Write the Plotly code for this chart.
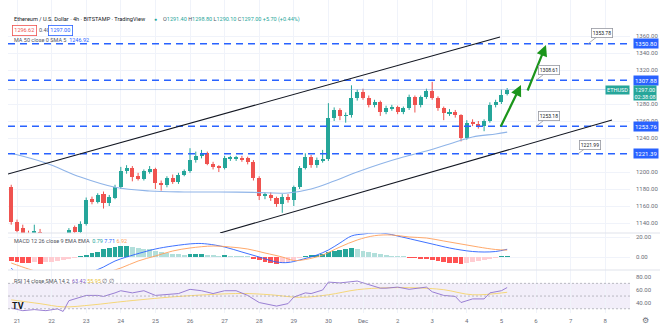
import pandas as pd
import plotly.graph_objects as go
from plotly.subplots import make_subplots

# ---------------- data ----------------
start_time = "2022-11-20 20:00"
n_candles = 87
opens = [1182, 1141, 1134, 1128, 1129, 1130, 1124, 1112, 1116, 1119,
         1125, 1135, 1129, 1139, 1168, 1165, 1174, 1163, 1170, 1182,
         1201, 1205, 1195, 1192, 1201, 1203, 1187, 1185, 1193, 1188,
         1197, 1201, 1214, 1219, 1222, 1210, 1206, 1205, 1216, 1216,
         1217, 1216, 1212, 1193, 1172, 1173, 1169, 1162, 1171, 1167,
         1182, 1205, 1218, 1208, 1214, 1215, 1264, 1273, 1266, 1267,
         1287, 1294, 1287, 1279, 1282, 1271, 1275, 1276, 1271, 1275,
         1288, 1279, 1288, 1295, 1287, 1275, 1269, 1271, 1267, 1240,
         1258, 1257, 1254, 1260, 1279, 1282, 1291.4]
highs = [1185, 1144, 1138, 1131, 1138, 1133, 1127, 1120, 1122, 1127,
         1134, 1137, 1142, 1170, 1171, 1175, 1177, 1173, 1185, 1206,
         1208, 1207, 1199, 1203, 1207, 1205, 1190, 1195, 1197, 1199,
         1203, 1228, 1224, 1226, 1224, 1212, 1208, 1219, 1219, 1219,
         1219, 1218, 1214, 1195, 1176, 1176, 1171, 1174, 1174, 1184,
         1207, 1222, 1220, 1217, 1226, 1281, 1276, 1275, 1270, 1302,
         1297, 1298, 1290, 1285, 1284, 1278, 1279, 1278, 1277, 1291,
         1290, 1290, 1298, 1306, 1289, 1277, 1274, 1273, 1268, 1261,
         1262, 1260, 1262, 1282, 1285, 1297, 1298.8]
lows = [1138, 1129, 1126, 1118, 1124, 1120, 1108, 1098, 1110, 1114,
        1122, 1126, 1127, 1137, 1162, 1163, 1157, 1160, 1168, 1180,
        1198, 1189, 1190, 1190, 1198, 1180, 1178, 1182, 1186, 1186,
        1195, 1199, 1211, 1216, 1208, 1203, 1200, 1203, 1213, 1213,
        1212, 1209, 1190, 1167, 1168, 1166, 1159, 1152, 1164, 1160,
        1180, 1203, 1205, 1205, 1211, 1213, 1260, 1261, 1258, 1264,
        1284, 1285, 1276, 1276, 1266, 1268, 1272, 1268, 1268, 1273,
        1270, 1276, 1286, 1285, 1272, 1261, 1266, 1264, 1236, 1238,
        1254, 1251, 1248, 1258, 1276, 1280, 1290.1]
closes = [1141, 1131, 1128, 1122, 1130, 1124, 1112, 1116, 1119, 1125,
          1132, 1129, 1139, 1167, 1165, 1173, 1163, 1171, 1182, 1201,
          1205, 1194, 1192, 1201, 1203, 1187, 1185, 1193, 1188, 1197,
          1201, 1214, 1219, 1222, 1210, 1206, 1205, 1216, 1217, 1217,
          1215, 1212, 1193, 1172, 1173, 1169, 1162, 1171, 1167, 1182,
          1205, 1218, 1208, 1214, 1215, 1264, 1273, 1266, 1267, 1287,
          1294, 1287, 1279, 1282, 1271, 1275, 1276, 1271, 1275, 1288,
          1279, 1288, 1295, 1287, 1275, 1269, 1271, 1267, 1240, 1258,
          1257, 1254, 1260, 1279, 1282, 1291, 1297.0]

# MA 50 read at a few candle indices
ma_idx = [0, 6, 12, 18, 24, 30, 36, 42, 48, 52, 56, 60, 64, 68, 72, 76, 80, 84, 86]
ma_val = [1222, 1210.6, 1194, 1182, 1177.6, 1176.5, 1176.5, 1176, 1175.3, 1180,
          1189.4, 1200, 1209.4, 1217.6, 1224.7, 1233, 1241.2, 1244.7, 1246.9]

# MACD histogram per candle
macd_hist = [-4, -5, -6, -6, -5, -7, -5, -4.5, -4, -3,
             -2, -1, 0.5, 2.5, 4, 5.5, 8, 9.5, 10, 11,
             11.5, 10, 9, 8.5, 8, 6.5, 5, 4, 3.5, 3,
             2.5, 3, 3, 3, 1.5, 1.2, 1, 1.5, 0.8, 0.6,
             0.4, 0.3, -1.5, -3, -4.5, -6, -7, -6, -4.5, -3,
             -1, 0.8, 1.5, 2, 3, 5, 6, 7, 8, 9.5,
             8, 6.5, 5, 4, 3, 2, 1, 0.5, 0.3, -1,
             -1, -1.5, -2, -2.5, -3.5, -4.5, -5.5, -6, -6.5, -5.5,
             -4.5, -3.5, -2.5, -1.5, -0.8, 0.3, 0.79]
macd_idx = [0, 1, 3, 6, 9, 12, 14, 16, 18, 20, 23, 25, 28, 32, 34, 37, 40, 43, 46, 48,
            50, 53, 55, 57, 59, 61, 63, 65, 67, 70, 73, 76, 78, 80, 82, 84, 86]
macd_line = [-11, -17, -25, -30, -27, -20, -15, -10, -4, 0, 5, 8, 11, 13.5, 13, 10, 5, 0, -5, -5.5,
             -3, 2, 7, 14, 21, 23, 24, 23.5, 21, 17, 13, 9, 7, 5.5, 5, 5.5, 7.71]
signal_idx = [0, 3, 6, 9, 12, 15, 19, 22, 25, 28, 31, 35, 38, 41, 44, 47, 49, 51, 54, 57,
              60, 63, 66, 69, 72, 75, 78, 81, 84, 86]
signal_line = [-6, -12, -17, -21, -22, -18, -11, -4, 1, 6, 9, 11, 10, 8, 4, 0, -3.5, -2.5, 2, 10,
               17, 21.3, 22, 20, 19, 16, 13, 10, 7.5, 6.92]

# RSI read at candle indices
rsi_idx = [0, 2, 4, 6, 8, 9, 10, 13, 15, 16, 18, 19, 21, 23, 25, 27, 29, 31, 33, 35,
           37, 39, 41, 43, 44, 46, 48, 49, 51, 52, 54, 55, 57, 59, 60, 62, 64, 65, 67, 69,
           72, 73, 75, 77, 78, 80, 82, 83, 85, 86]
rsi_val = [31, 27, 28.7, 27, 29.8, 25.8, 42.7, 51, 51, 49.4, 55, 58.4, 55, 58.4, 51, 52.8, 53.9, 60.6, 58.4, 53.9,
           58.4, 58.4, 51, 39.8, 38.1, 34.2, 38.1, 48.3, 55, 53.9, 59.5, 72, 70.7, 72, 73.6, 68, 62.4, 62.4, 64.1, 60.6,
           64.1, 56.7, 51, 49.4, 39.8, 45.5, 45.5, 55, 58.4, 63.42]
rsi_ma_idx = [0, 5, 9, 14, 20, 30, 40, 45, 50, 55, 60, 65, 70, 75, 80, 86]
rsi_ma_val = [44, 38, 33, 36, 42, 50, 54, 52, 48, 52, 60, 63, 63, 60, 52, 55.95]

# horizontal levels and their labels
levels = [1350.80, 1307.88, 1253.76, 1221.39]
callouts = ["1353.78", "1308.61", "1253.18", "1221.99"]

price_ticks = [1140, 1160, 1180, 1200, 1240, 1260, 1280, 1320, 1340, 1360]
day_ticks = pd.date_range("2022-11-21", "2022-12-08", freq="D")
day_text = ["21", "22", "23", "24", "25", "26", "27", "28", "29", "30",
            "Dec", "2", "3", "4", "5", "6", "7", "8"]

# ---------------- figure ----------------
times = pd.date_range(start_time, periods=n_candles, freq="4h")
UP, DN = "#26a69a", "#ef5350"
W, H = 660, 331
L, R, T, B = 8, 30, 0, 18
PW, PH = W - L - R, H - T - B


def pxx(x):
    return (x - L) / PW


def pyy(y):
    return 1 - (y - T) / PH


def t_at(x):
    return pd.Timestamp("2022-11-21") + pd.Timedelta(hours=(x - 17) / (34.6 / 24))


def p_at(y):
    return 1360 - (y - 36) / 0.85


fig = make_subplots(rows=3, cols=1, shared_xaxes=True, vertical_spacing=0)

# candle wicks
for col, cond in ((UP, True), (DN, False)):
    wx, wy = [], []
    for t, o, h, l, c in zip(times, opens, highs, lows, closes):
        if (c >= o) == cond:
            wx += [t, t, None]
            wy += [l, h, None]
    fig.add_trace(go.Scatter(x=wx, y=wy, mode="lines", line=dict(color=col, width=1),
                             hoverinfo="skip", showlegend=False), row=1, col=1)

body_base = [min(o, c) for o, c in zip(opens, closes)]
body_h = [max(abs(c - o), 0.9) for o, c in zip(opens, closes)]
body_col = [UP if c >= o else DN for o, c in zip(opens, closes)]
fig.add_trace(go.Bar(x=times, y=body_h, base=body_base, marker=dict(color=body_col, line=dict(width=0)),
                     width=2.8 * 3600 * 1000, showlegend=False), row=1, col=1)

# MA 50
fig.add_trace(go.Scatter(x=[times[i] for i in ma_idx], y=ma_val, mode="lines",
                         line=dict(color="#8fb4e8", width=1.1, shape="spline"), showlegend=False),
              row=1, col=1)

# MACD histogram colours
hist_col = []
for i, v in enumerate(macd_hist):
    prev = macd_hist[i - 1] if i > 0 else v
    if v >= 0:
        hist_col.append("#26a69a" if v >= prev else "#b2dfdb")
    else:
        hist_col.append("#ff5252" if v <= prev else "#ffcdd2")
fig.add_trace(go.Bar(x=times, y=macd_hist, marker=dict(color=hist_col, line=dict(width=0)),
                     width=3.4 * 3600 * 1000, showlegend=False), row=2, col=1)
fig.add_trace(go.Scatter(x=[times[i] for i in macd_idx], y=macd_line, mode="lines",
                         line=dict(color="#2962ff", width=0.9, shape="spline"), showlegend=False),
              row=2, col=1)
fig.add_trace(go.Scatter(x=[times[i] for i in signal_idx], y=signal_line, mode="lines",
                         line=dict(color="#ff9f5a", width=0.9, shape="spline"), showlegend=False),
              row=2, col=1)

# RSI
fig.add_trace(go.Scatter(x=[times[i] for i in rsi_ma_idx], y=rsi_ma_val, mode="lines",
                         line=dict(color="#f5d46a", width=0.9, shape="spline"), showlegend=False),
              row=3, col=1)
fig.add_trace(go.Scatter(x=[times[i] for i in rsi_idx], y=rsi_val, mode="lines",
                         line=dict(color="#8f72cf", width=0.9), showlegend=False),
              row=3, col=1)

# ---------------- layout ----------------
grid = "#f0f3fa"
xr = [t_at(L), t_at(W - R)]
font = "Roboto, Arial, sans-serif"
fig.update_layout(width=W, height=H, margin=dict(l=L, r=R, t=T, b=B),
                  plot_bgcolor="white", paper_bgcolor="white", barmode="overlay", bargap=0,
                  font=dict(family=font, size=6, color="#50535e"), showlegend=False,
                  hovermode=False)
for k in ("xaxis", "xaxis2", "xaxis3"):
    fig.layout[k].update(range=xr, tickvals=day_ticks, ticktext=day_text, showgrid=True,
                         gridcolor=grid, gridwidth=1, zeroline=False, showline=False,
                         ticks="", rangeslider=dict(visible=False))
fig.layout.xaxis.showticklabels = False
fig.layout.xaxis2.showticklabels = False
fig.layout.xaxis3.update(showticklabels=True, tickfont=dict(size=6, color="#6a6d78"), ticklabelstandoff=3)

dom_price = [pyy(233), 1]
dom_macd = [pyy(270), pyy(233)]
dom_rsi = [0, pyy(270)]
fig.layout.yaxis.update(domain=dom_price, range=[p_at(233), p_at(0)], side="right",
                        tickvals=price_ticks, tickformat=".2f", showgrid=True, gridcolor=grid,
                        zeroline=False, tickfont=dict(size=6, color="#6a6d78"), ticks="",
                        ticklabelstandoff=5)
fig.layout.yaxis2.update(domain=dom_macd, range=[257 - 270, 257 - 233], side="right",
                         tickvals=[0, 20], tickformat=".2f", showgrid=True, gridcolor=grid,
                         zeroline=False, tickfont=dict(size=6, color="#6a6d78"), ticks="",
                         ticklabelstandoff=5)
fig.layout.yaxis3.update(domain=dom_rsi, range=[80 - (313 - 277) / 0.635, 80 + (277 - 270) / 0.635],
                         side="right", tickvals=[40, 60, 80], tickformat=".2f", showgrid=False,
                         zeroline=False, tickfont=dict(size=6, color="#6a6d78"), ticks="",
                         ticklabelstandoff=5)

shapes = []
# pane separators
for yy in (233, 270):
    shapes.append(dict(type="line", xref="paper", yref="paper", x0=0, x1=1 + R / PW,
                       y0=pyy(yy), y1=pyy(yy), line=dict(color="#e0e3eb", width=1)))
# RSI band
shapes.append(dict(type="rect", xref="x3 domain", yref="y3", x0=0, x1=1, y0=30, y1=70,
                   fillcolor="rgba(126,87,194,0.10)", line=dict(width=0), layer="below"))
for lv in (70, 50, 30):
    shapes.append(dict(type="line", xref="x3 domain", yref="y3", x0=0, x1=1, y0=lv, y1=lv,
                       line=dict(color="#a9abb3", width=0.8, dash="2px,2px")))
# last price line
shapes.append(dict(type="line", xref="x domain", yref="y", x0=0, x1=1, y0=closes[-1], y1=closes[-1],
                   line=dict(color="rgba(120,160,220,0.45)", width=1)))
# horizontal levels
for lv in levels:
    shapes.append(dict(type="line", xref="x domain", yref="y", x0=0, x1=1, y0=lv, y1=lv,
                       line=dict(color="#2962ff", width=1.6, dash="7px,5px")))
# channel lines
shapes.append(dict(type="line", xref="x", yref="y", x0=t_at(8), y0=p_at(174), x1=t_at(500), y1=p_at(37),
                   line=dict(color="#131722", width=1.1)))
shapes.append(dict(type="line", xref="x", yref="y", x0=t_at(220), y0=p_at(233), x1=t_at(612), y1=p_at(120),
                   line=dict(color="#131722", width=1.1)))
fig.update_layout(shapes=shapes)

ann = []
# green arrows
for (x0, y0, x1, y1) in ((500, 128, 521, 85), (527, 92, 546, 45)):
    ann.append(dict(x=t_at(x1), y=p_at(y1), ax=t_at(x0), ay=p_at(y0), xref="x", yref="y",
                    axref="x", ayref="y", showarrow=True, arrowhead=2, arrowsize=1,
                    arrowwidth=2.2, arrowcolor="#1b951b", text=""))
# callout labels
for (tx, lv, dx, dy, txt) in ((588, levels[0], 14, -11, callouts[0]), (536, levels[1], 13, -10, callouts[1]),
                              (536, levels[2], 13, -10, callouts[2]), (578, levels[3], 12, -9, callouts[3])):
    ann.append(dict(x=t_at(tx), y=lv, xref="x", yref="y", ax=dx, ay=dy, showarrow=True, arrowhead=0,
                    arrowwidth=0.8, arrowcolor="#9598a1", text=txt, font=dict(size=5, color="#131722"),
                    bgcolor="white", bordercolor="#9598a1", borderwidth=0.8, borderpad=1))
# axis level boxes
for lv in levels:
    ann.append(dict(x=1, xref="paper", xanchor="left", xshift=3, y=lv, yref="y", yanchor="middle",
                    showarrow=False, text=f"{lv:.2f}", font=dict(size=6, color="white"),
                    bgcolor="#2962ff", borderpad=1))
ann.append(dict(x=1, xref="paper", xanchor="left", xshift=3, y=closes[-1], yref="y", yanchor="top",
                yshift=5, showarrow=False, text=f"{closes[-1]:.2f}<br>02:38:08",
                font=dict(size=5.5, color="white"), bgcolor=UP, borderpad=0.5))
ann.append(dict(x=1, xref="paper", xanchor="right", xshift=0, y=closes[-1], yref="y", yanchor="middle",
                showarrow=False, text="ETHUSD", font=dict(size=5.5, color="white"), bgcolor=UP,
                borderpad=1))


def header(x, y, text, size=5.5, color="#50535e", **kw):
    d = dict(x=pxx(x), y=pyy(y), xref="paper", yref="paper", xanchor="left", yanchor="middle",
             showarrow=False, text=text, font=dict(size=size, color=color))
    d.update(kw)
    ann.append(d)


header(12, 19, "Ethereum / U.S. Dollar · 4h · BITSTAMP · TradingView", size=5.6, color="#131722")
header(152, 19, "●", size=5, color=UP)
ohlc = ("<span style='color:#50535e'>O</span>1291.40 <span style='color:#50535e'>H</span>1298.80 "
        "<span style='color:#50535e'>L</span>1290.10 <span style='color:#50535e'>C</span>1297.00 +5.70 (+0.44%)")
header(161, 19, ohlc, size=5.5, color=UP)
header(12, 30, "1296.62", color=DN, bordercolor=DN, borderwidth=0.8, borderpad=1.5, bgcolor="white")
header(37, 30, "0.40")
header(48, 30, "1297.00", color="#2962ff", bordercolor="#2962ff", borderwidth=0.8, borderpad=1.5,
       bgcolor="white")
header(12, 40, "MA 50 close 0 SMA 5  <span style='color:#2962ff'>1246.92</span>")
header(12, 241, ("MACD 12 26 close 9 EMA EMA  <span style='color:#26a69a'>0.79</span> "
                 "<span style='color:#2962ff'>7.71</span> <span style='color:#ff9f5a'>6.92</span>"))
header(12, 281, ("RSI 14 close SMA 14 2  <span style='color:#7e57c2'>63.42</span> "
                 "<span style='color:#e8c038'>55.95</span> ∅ ∅"))
header(10, 306, "<b>TV</b>", size=9, color="#131722")
ann.append(dict(x=pxx(645), y=pyy(320), xref="paper", yref="paper", xanchor="center", yanchor="middle",
                showarrow=False, text="⚙", font=dict(size=8, color="#6a6d78")))
fig.update_layout(annotations=ann)

fig.write_html("out.html")
